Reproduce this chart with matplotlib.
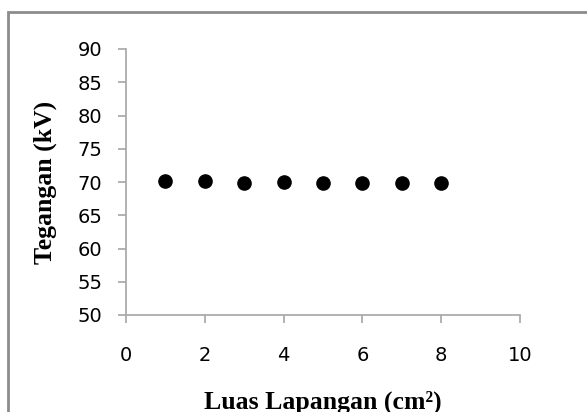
import numpy as np
import matplotlib.pyplot as plt
from matplotlib.patches import Rectangle

# data
luas = [1, 2, 3, 4, 5, 6, 7, 8]
tegangan = [70.1, 70.15, 69.9, 70.05, 69.9, 69.9, 69.85, 69.9]
x_ticks = [0, 2, 4, 6, 8, 10]
y_ticks = [50, 55, 60, 65, 70, 75, 80, 85, 90]

fig = plt.figure(figsize=(5.87, 4.12), dpi=100)
ax = fig.add_axes([126/587, 1 - 315/412, (520 - 126)/587, (315 - 49)/412])

ax.plot(luas, tegangan, 'o', color='black', ms=9.5, clip_on=False)

ax.set_xlim(0, 10)
ax.set_ylim(50, 90)
ax.set_xticks(x_ticks)
ax.set_yticks(y_ticks)

grey = '#a6a6a6'
for s in ['top', 'right']:
    ax.spines[s].set_visible(False)
for s in ['left', 'bottom']:
    ax.spines[s].set_color(grey)
    ax.spines[s].set_linewidth(1.2)
ax.tick_params(axis='both', direction='out', length=6, width=1.2, color=grey,
               labelsize=14, labelcolor='black')
ax.tick_params(axis='x', pad=16)
ax.tick_params(axis='y', pad=11)

ax.set_xlabel('Luas Lapangan (cm²)', family='Liberation Serif',
              fontweight='bold', fontsize=18.5, labelpad=19)
ax.set_ylabel('Tegangan (kV)', family='Liberation Serif',
              fontweight='bold', fontsize=18.5, labelpad=15)

# outer chart border (only top and left edges are visible in the crop)
fig.patches.append(Rectangle((7.5/587, -0.1), 1.2, 1.1 - 12.5/412,
                             transform=fig.transFigure, fill=False,
                             edgecolor='#8c8c8c', lw=2))

fig.savefig('out.png', dpi=100)
